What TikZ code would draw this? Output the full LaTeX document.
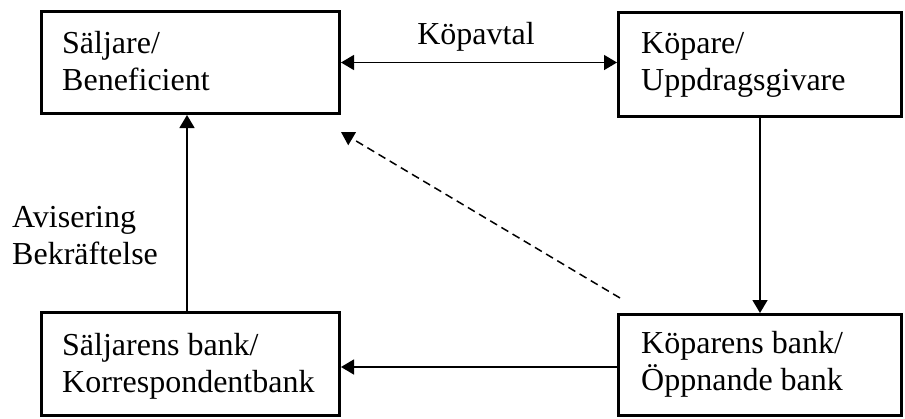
\documentclass[tikz,border=0pt]{standalone}
\usepackage{fontspec}
\setmainfont{Liberation Serif}
\usetikzlibrary{arrows.meta}
\begin{document}
\begin{tikzpicture}[x=1pt,y=-1pt,
  boxnode/.style={draw, line width=3pt, inner sep=0pt, rectangle},
  txt/.style={font=\fontsize{32}{37}\selectfont, align=left, inner sep=0pt, anchor=base west},
  arr/.style={line width=1.5pt, -{Triangle[length=13pt,width=15pt]}},
  darr/.style={line width=1.5pt, {Triangle[length=13pt,width=15pt]}-{Triangle[length=13pt,width=15pt]}},
  dasharr/.style={line width=1.5pt, dash pattern=on 8pt off 5pt, -{Triangle[length=13pt,width=15pt]}}]
\useasboundingbox (0,0) rectangle (905,418);
\node[boxnode, minimum width=298pt, minimum height=102pt] (A) at (190.5,62.5) {};
\node[boxnode, minimum width=283pt, minimum height=104pt] (B) at (760,64.5) {};
\node[boxnode, minimum width=298pt, minimum height=103pt] (C) at (190.5,364) {};
\node[boxnode, minimum width=283pt, minimum height=101pt] (D) at (760,365) {};
\node[txt] (At) at (62,90) {Säljare/\\Beneficient};
\node[txt] (Bt) at (641,90) {Köpare/\\Uppdragsgivare};
\node[txt] (Ct) at (62,392) {Säljarens bank/\\Korrespondentbank};
\node[txt] (Dt) at (641,390) {Köparens bank/\\Öppnande bank};
\node[txt] (lab1) at (12,264) {Avisering\\Bekräftelse};
\node[txt, anchor=base] (lab2) at (476,44) {Köpavtal};
\coordinate (vx) at (187,0);
\coordinate (ds) at (620,298);
\coordinate (de) at (341,132);
\draw[darr] (A.east) -- (B.west |- A.east);
\draw[arr] (C.north -| vx) -- (A.south -| vx);
\draw[arr] (B.south) -- (D.north);
\draw[arr] (D.west |- 0,367) -- (C.east |- 0,367);
\draw[dasharr] (ds) -- (de);
\end{tikzpicture}
\end{document}
